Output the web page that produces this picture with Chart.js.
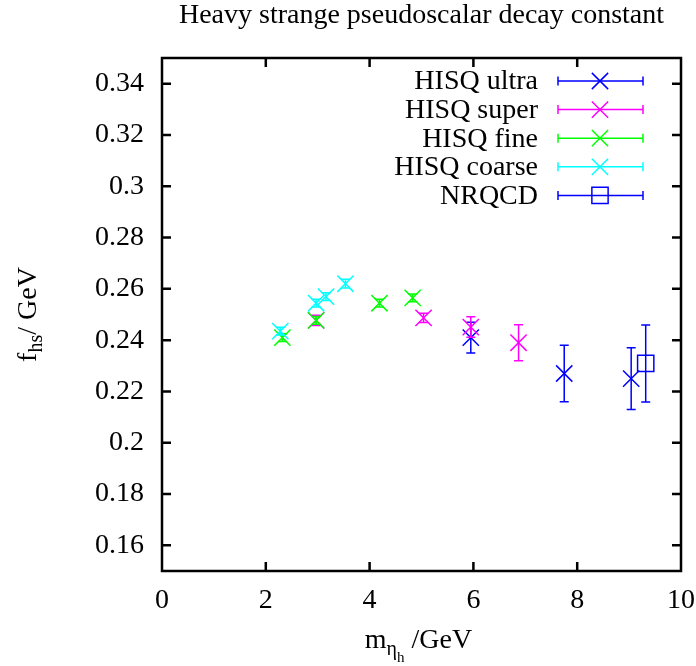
<!DOCTYPE html>
<html><head><meta charset="utf-8">
<script src="https://cdn.jsdelivr.net/npm/chart.js@4"></script>
<style>html,body{margin:0;padding:0;background:#fff}canvas{display:block}</style>
</head><body>
<canvas id="c" width="696" height="666"></canvas>
<script>
// ---- data ----
const seriesNames = ['HISQ ultra', 'HISQ super', 'HISQ fine', 'HISQ coarse', 'NRQCD'];
const ultraX = [5.95, 7.75, 9.04];
const ultraY = [0.241, 0.227, 0.225];
const ultraErr = [0.006, 0.011, 0.012];
const superX = [2.97, 5.04, 5.95, 6.87];
const superY = [0.2477, 0.2487, 0.2451, 0.239];
const superErr = [0.002, 0.0018, 0.004, 0.007];
const fineX = [2.32, 2.97, 4.19, 4.83];
const fineY = [0.241, 0.2477, 0.2544, 0.2565];
const fineErr = [0.0015, 0.0015, 0.0015, 0.0015];
const coarseX = [2.28, 2.97, 3.16, 3.535];
const coarseY = [0.2435, 0.2544, 0.257, 0.262];
const coarseErr = [0.0015, 0.0015, 0.0015, 0.0017];
const nrqcdX = [9.32];
const nrqcdY = [0.2309];
const nrqcdErr = [0.015];
const xTicks = [0, 2, 4, 6, 8, 10];
const yTicks = [0.16, 0.18, 0.2, 0.22, 0.24, 0.26, 0.28, 0.3, 0.32, 0.34];
const titleText = 'Heavy strange pseudoscalar decay constant';

const FONT = '"Liberation Serif", "Times New Roman", serif';
const FS = 28;
function pts(xs, ys, es) { return xs.map((x, i) => ({ x: x, y: ys[i], e: es[i] })); }

const colors = ['#0000ff', '#ff00ff', '#00ff00', '#00ffff', '#0000ff'];
const styles = ['crossRot', 'crossRot', 'crossRot', 'crossRot', 'rect'];
const allData = [
  pts(ultraX, ultraY, ultraErr),
  pts(superX, superY, superErr),
  pts(fineX, fineY, fineErr),
  pts(coarseX, coarseY, coarseErr),
  pts(nrqcdX, nrqcdY, nrqcdErr)
];

const datasets = seriesNames.map((n, i) => ({
  label: n,
  data: allData[i],
  showLine: false,
  pointStyle: styles[i],
  pointRadius: 11.5,
  pointHoverRadius: 11.5,
  borderColor: colors[i],
  backgroundColor: 'rgba(0,0,0,0)',
  pointBorderWidth: 1.5,
  order: 5 - i
}));

const CAP = 4.5;
const errorBars = {
  id: 'errorBars',
  beforeDatasetDraw(chart, args) {
    const ds = chart.data.datasets[args.index];
    const xs = chart.scales.x, ys = chart.scales.y, ctx = chart.ctx;
    ctx.save();
    ctx.strokeStyle = ds.borderColor;
    ctx.lineWidth = 1.5;
    ctx.beginPath();
    ds.data.forEach(p => {
      const px = xs.getPixelForValue(p.x);
      const y1 = ys.getPixelForValue(p.y - p.e), y2 = ys.getPixelForValue(p.y + p.e);
      ctx.moveTo(px, y1); ctx.lineTo(px, y2);
      ctx.moveTo(px - CAP, y1); ctx.lineTo(px + CAP, y1);
      ctx.moveTo(px - CAP, y2); ctx.lineTo(px + CAP, y2);
    });
    ctx.stroke();
    ctx.restore();
  }
};

const decor = {
  id: 'decor',
  beforeDraw(chart) {
    const ctx = chart.ctx;
    ctx.save();
    ctx.fillStyle = '#fff';
    ctx.fillRect(0, 0, chart.width, chart.height);
    ctx.restore();
  },
  afterDraw(chart) {
    const ctx = chart.ctx, a = chart.chartArea;
    const xs = chart.scales.x, ys = chart.scales.y;
    ctx.save();
    // frame + inward ticks
    ctx.strokeStyle = '#000';
    ctx.lineWidth = 2.5;
    ctx.beginPath();
    ctx.rect(a.left, a.top, a.right - a.left, a.bottom - a.top);
    const TL = 9;
    xs.ticks.forEach(t => {
      const px = xs.getPixelForValue(t.value);
      if (px <= a.left + 1 || px >= a.right - 1) return;
      ctx.moveTo(px, a.bottom); ctx.lineTo(px, a.bottom - TL);
      ctx.moveTo(px, a.top); ctx.lineTo(px, a.top + TL);
    });
    ys.ticks.forEach(t => {
      const py = ys.getPixelForValue(t.value);
      ctx.moveTo(a.left, py); ctx.lineTo(a.left + TL, py);
      ctx.moveTo(a.right, py); ctx.lineTo(a.right - TL, py);
    });
    ctx.stroke();

    // title
    ctx.fillStyle = '#000';
    ctx.font = FS + 'px ' + FONT;
    ctx.textAlign = 'center';
    ctx.textBaseline = 'alphabetic';
    ctx.fillText(titleText, (a.left + a.right) / 2, 23);

    // y label: f_hs/ GeV
    ctx.save();
    ctx.translate(36, (a.top + a.bottom) / 2);
    ctx.rotate(-Math.PI / 2);
    const partsY = [['f', FS, 0], ['hs', 20, 6], ['/ GeV', FS, 0]];
    drawParts(ctx, partsY);
    ctx.restore();

    // x label: m_{eta_h} /GeV
    ctx.save();
    ctx.translate((a.left + a.right) / 2 - 3, 648);
    const partsX = [['m', FS, 0], ['\u03b7', 20, 7], ['h', 15, 14], [' /GeV', FS, 0]];
    drawParts(ctx, partsX);
    ctx.restore();

    // legend
    const rowY0 = 81, rowDY = 28.6;
    seriesNames.forEach((n, i) => {
      const y = rowY0 + i * rowDY;
      ctx.font = FS + 'px ' + FONT;
      ctx.textAlign = 'right';
      ctx.textBaseline = 'middle';
      ctx.fillStyle = '#000';
      ctx.fillText(n, 538, y + 1);
      ctx.strokeStyle = colors[i];
      ctx.lineWidth = 1.5;
      ctx.beginPath();
      ctx.moveTo(558, y); ctx.lineTo(643, y);
      ctx.moveTo(558, y - CAP); ctx.lineTo(558, y + CAP);
      ctx.moveTo(643, y - CAP); ctx.lineTo(643, y + CAP);
      ctx.stroke();
      ctx.fillStyle = 'rgba(0,0,0,0)';
      Chart.helpers.drawPoint(ctx, { pointStyle: styles[i], radius: 11.5, borderWidth: 1.5 }, 600, y);
    });
    ctx.restore();
  }
};

function drawParts(ctx, parts) {
  let w = 0;
  parts.forEach(p => { ctx.font = p[1] + 'px ' + FONT; w += ctx.measureText(p[0]).width; });
  let x = -w / 2;
  ctx.textAlign = 'left';
  ctx.textBaseline = 'alphabetic';
  ctx.fillStyle = '#000';
  parts.forEach(p => {
    ctx.font = p[1] + 'px ' + FONT;
    ctx.fillText(p[0], x, p[2]);
    x += ctx.measureText(p[0]).width;
  });
}

new Chart(document.getElementById('c'), {
  type: 'scatter',
  data: { datasets: datasets },
  options: {
    responsive: false,
    animation: false,
    devicePixelRatio: 1,
    layout: { padding: { top: 58, right: 15, left: 0, bottom: 0 } },
    plugins: { legend: { display: false }, tooltip: { enabled: false }, title: { display: false } },
    scales: {
      x: {
        type: 'linear', min: 0, max: 10,
        afterBuildTicks: s => { s.ticks = xTicks.map(v => ({ value: v })); },
        afterFit: s => { s.height = 95; s.paddingLeft = 0; s.paddingRight = 0; },
        grid: { display: false, drawTicks: false },
        border: { display: false },
        ticks: { color: '#000', font: { family: FONT, size: FS }, padding: 13, maxRotation: 0,
          callback: v => String(v) }
      },
      y: {
        type: 'linear', min: 0.15, max: 0.35,
        afterBuildTicks: s => { s.ticks = yTicks.map(v => ({ value: v })); },
        afterFit: s => { s.width = 162; s.paddingTop = 0; s.paddingBottom = 0; },
        grid: { display: false, drawTicks: false },
        border: { display: false },
        ticks: { color: '#000', font: { family: FONT, size: FS }, padding: 18,
          callback: v => String(Number(v.toFixed(2))) }
      }
    }
  },
  plugins: [errorBars, decor]
});
</script>
</body></html>
